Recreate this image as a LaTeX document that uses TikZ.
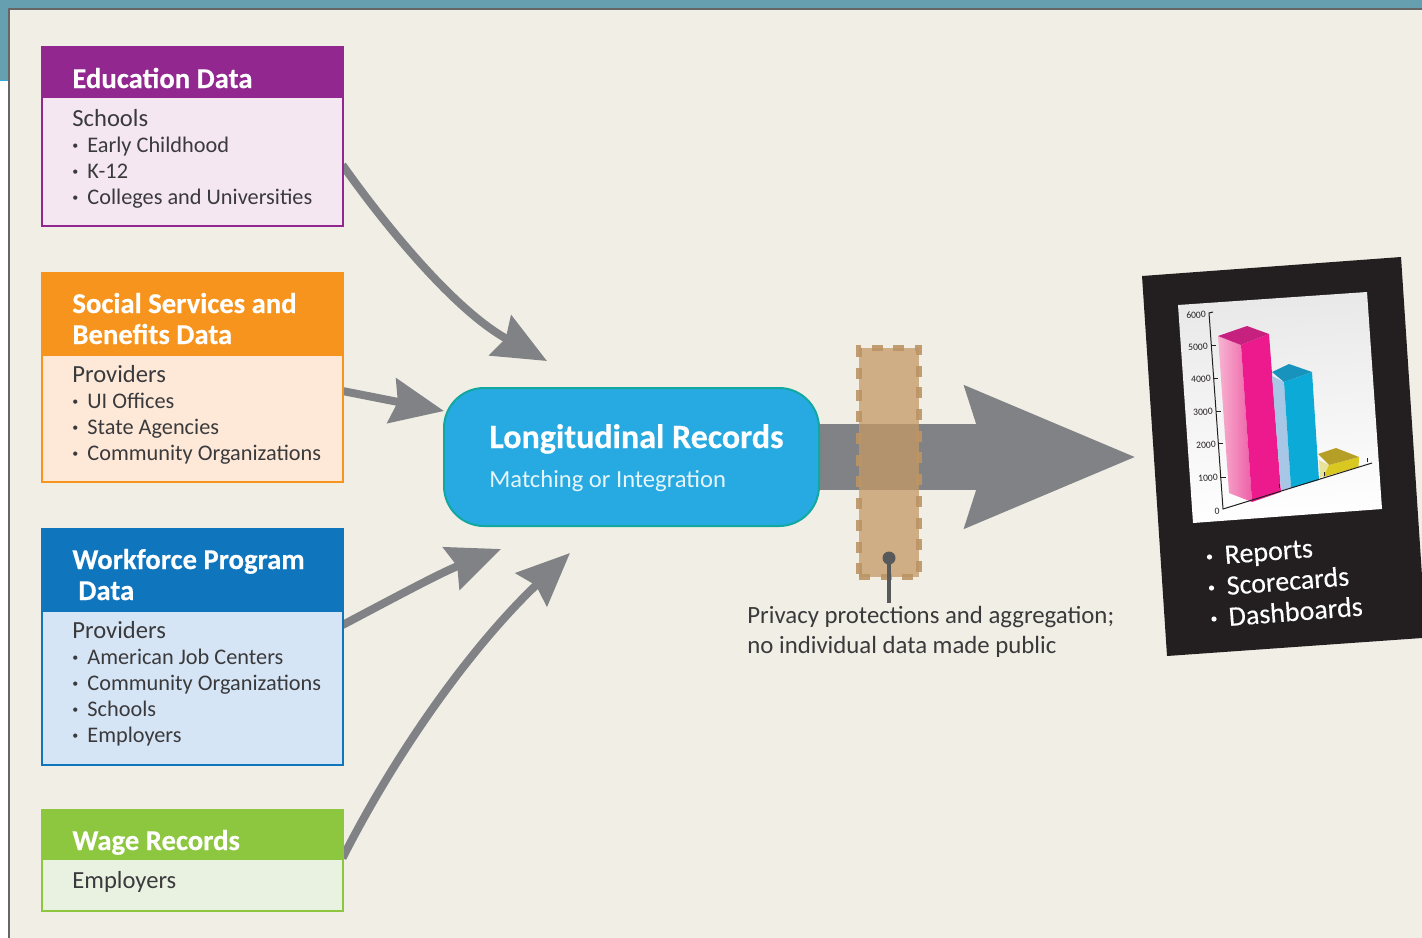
\documentclass[tikz,border=0pt]{standalone}
\usepackage{fontspec}
\setmainfont{Carlito}
\newfontfamily\cardfont[FakeBold=0.25]{Carlito}
\newfontfamily\hdfont[BoldFeatures={FakeBold=0.35}]{Carlito}
\usetikzlibrary{arrows.meta,calc}
\pgfdeclarelayer{surround}
\pgfdeclarelayer{links}
\pgfsetlayers{surround,links,main}
\definecolor{panel}{HTML}{F1EEE5}
\definecolor{teal}{HTML}{669FAF}
\definecolor{frame}{HTML}{666666}
\definecolor{ink}{HTML}{3A3A3C}
\definecolor{arrowgray}{HTML}{808285}
\definecolor{purp}{HTML}{92278F}\definecolor{purpl}{HTML}{F4E7F2}
\definecolor{oran}{HTML}{F7941D}\definecolor{oranl}{HTML}{FEE9D9}
\definecolor{blu}{HTML}{0F75BD}\definecolor{blul}{HTML}{D6E5F5}
\definecolor{gren}{HTML}{8DC63F}\definecolor{grenl}{HTML}{E9F2E1}
\definecolor{lrfill}{HTML}{27AAE1}\definecolor{lredge}{HTML}{12A8A0}
\definecolor{cardk}{HTML}{231F20}
\definecolor{band}{HTML}{C49965}
\definecolor{banddash}{HTML}{BC9464}
\definecolor{pincol}{HTML}{58595B}
\definecolor{hotpink}{HTML}{EC1A8C}
\definecolor{pinktop}{HTML}{C7217F}
\definecolor{pinkpale}{HTML}{F7B3D0}
\definecolor{pinkmid}{HTML}{EE5FA8}
\definecolor{cyanbar}{HTML}{0CAAD6}
\definecolor{cyantop}{HTML}{1793BD}
\definecolor{palebar}{HTML}{A8C6E6}
\definecolor{yelbar}{HTML}{D9C81F}
\definecolor{yeltop}{HTML}{B59F27}
\definecolor{yelpale}{HTML}{E8E29A}
\tikzset{
 bx/.style={draw=#1,line width=1pt,inner sep=0pt,outer sep=0pt},
 hd/.style={fill=#1,draw=none,inner sep=0pt,outer sep=0pt},
 hdtext/.style={anchor=base west,inner sep=0pt,text=white,font=\fontsize{14.35}{15.5}\hdfont\selectfont\bfseries,align=left},
 bodytext/.style={anchor=base west,inner sep=0pt,text=ink,font=\fontsize{11.15}{13}\selectfont,align=left},
 conn/.style={draw=arrowgray,line width=4pt,-{Stealth[length=26.5pt,width=22.5pt,inset=3pt]}},
 bigconn/.style={draw=arrowgray,line width=33pt,-{Stealth[length=84pt,width=67pt,inset=9pt]}},
 ticklabel/.style={inner sep=0pt,text=cardk,font=\fontsize{4.8}{5}\selectfont,rotate=3.5},
 axisline/.style={draw=cardk,line width=0.5pt},
 cardtext/.style={anchor=base west,inner sep=0pt,text=white,font=\fontsize{14}{15}\cardfont\selectfont,rotate=4.5},
}
\newcommand{\itm}[1]{\makebox[7.5pt][l]{\raisebox{1.1pt}{\fontsize{6}{6}\selectfont\textbullet}}#1}
\newcommand{\lead}[1]{{\fontsize{12.3}{13}\selectfont #1}}
\begin{document}
\begin{tikzpicture}[x=0.5pt,y=-0.5pt]
\useasboundingbox (0,0) rectangle (1422,937);
% page surround
\begin{pgfonlayer}{surround}
\fill[white] (0,0) rectangle (1422,937);
\fill[teal] (0,0) rectangle (1422,9);
\fill[teal] (0,0) rectangle (9,80);
\draw[cyan!70!teal,line width=0.5pt] (0,80) -- (9,80);
\path[fill=panel,draw=frame,line width=0.8pt] (9,9) rectangle (1424,939);
\end{pgfonlayer}

% source boxes
\node[bx=purp,fill=purpl,minimum width=150.5pt,minimum height=89.5pt] (edubox) at (192,136) {};
\node[bx=oran,fill=oranl,minimum width=150.5pt,minimum height=104.5pt] (socbox) at (192,377) {};
\node[bx=blu,fill=blul,minimum width=150.5pt,minimum height=118pt] (wrkbox) at (192,646.5) {};
\node[bx=gren,fill=grenl,minimum width=150.5pt,minimum height=50.5pt] (wagbox) at (192,860) {};

\coordinate (t1) at (547,361);
\coordinate (t2) at (444,411);
\coordinate (t3) at (501,549);
\coordinate (t4) at (570,553);
\coordinate (t5) at (1137,457);

% headers
\node[hd=purp,minimum width=151pt,minimum height=26pt] (eduhd) at (192,72) {};
\node[hd=oran,minimum width=151pt,minimum height=42pt] (sochd) at (192,314) {};
\node[hd=blu,minimum width=151pt,minimum height=42pt] (wrkhd) at (192,570) {};
\node[hd=gren,minimum width=151pt,minimum height=25.5pt] (waghd) at (192,834.5) {};

\node[hdtext] (edut) at (72,88) {Education Data};
\node[hdtext] (soct) at (72,344) {Social Services and\\Benefits Data};
\node[hdtext] (wrkt) at (72,600) {Workforce Program\\\hspace{3pt}Data};
\node[hdtext] (wagt) at (72,850) {Wage Records};

\node[bodytext] (edub) at (72,204) {\lead{Schools}\\\itm{Early Childhood}\\\itm{K-12}\\\itm{Colleges and Universities}};
\node[bodytext] (socb) at (72,460) {\lead{Providers}\\\itm{UI Offices}\\\itm{State Agencies}\\\itm{Community Organizations}};
\node[bodytext] (wrkb) at (72,742) {\lead{Providers}\\\itm{American Job Centers}\\\itm{Community Organizations}\\\itm{Schools}\\\itm{Employers}};
\node[bodytext] (wagb) at (72,888) {\lead{Employers}};

% hub
\node[rounded corners=20pt,fill=lrfill,draw=lredge,line width=1pt,minimum width=187.5pt,minimum height=69pt,inner sep=0pt,outer sep=0pt] (lr) at (631.5,457) {};
\node[anchor=base west,inner sep=0pt,text=white,font=\fontsize{17}{18}\hdfont\selectfont\bfseries] (lrt) at (489,448) {Longitudinal Records};
\node[anchor=base west,inner sep=0pt,text=white!88!lrfill,font=\fontsize{12.3}{14}\selectfont] (lrs) at (489,487) {Matching or Integration};

% connectors, under the boxes
\begin{pgfonlayer}{links}
\draw[conn] ([yshift=-14.5pt]edubox.east) .. controls (385,225) and (454,310) .. (t1);
\draw[conn] ([yshift=-7pt]socbox.east) -- (t2);
\draw[conn] ([yshift=10.75pt]wrkbox.east) .. controls (390,600) and (440,573) .. (t3);
\draw[conn] ([yshift=1pt]wagbox.east) .. controls (400,745) and (475,643) .. (t4);
\draw[bigconn] (lr.east) -- (t5);
\end{pgfonlayer}

% privacy band
\node[fill=band,fill opacity=0.75,draw=banddash,draw opacity=0.9,line width=3pt,dash pattern=on 5.5pt off 5.35pt,minimum width=30pt,minimum height=114.5pt,inner sep=0pt,outer sep=0pt] (band) at (889,462.5) {};
\coordinate (pinhead) at (889,558);
\coordinate (pinfoot) at (889,603);
\draw[draw=pincol,line width=2pt] (pinhead) -- (pinfoot);
\fill[pincol] (pinhead) circle[radius=6.5];
\node[anchor=base west,inner sep=0pt,text=ink,font=\fontsize{12.4}{15}\selectfont,align=left] (privt) at (747,653) {Privacy protections and aggregation;\\no individual data made public};

% report card
\path[fill=cardk] (1142,276) -- (1401,257) -- (1422,576) -- (1422,638) -- (1167,656) -- cycle;
\path[top color=black!9,bottom color=white,shading angle=3.5] (1178,305) -- (1367,292) -- (1382,509) -- (1193,523) -- cycle;

% bars
\path[left color=pinkpale,right color=pinkmid] (1218,336) -- (1241,345) -- (1252,502) -- (1229,493) -- cycle;
\path[fill=hotpink] (1241,345) -- (1269,334) -- (1281,492) -- (1252,502) -- cycle;
\path[fill=pinktop] (1218,336) -- (1247,326) -- (1269,334) -- (1241,345) -- cycle;
\path[fill=palebar] (1272,376) -- (1284,382) -- (1291,488) -- (1281,491) -- cycle;
\path[fill=cyanbar] (1284,382) -- (1312,372) -- (1319,480) -- (1291,488) -- cycle;
\path[fill=cyantop] (1272,372) -- (1289,364) -- (1312,372) -- (1284,382) -- cycle;
\path[fill=yelpale] (1319,460) -- (1329,465) -- (1323,476) -- (1320,478) -- cycle;
\path[fill=yelbar] (1329,465) -- (1359,457) -- (1358.5,467) -- (1323,477) -- cycle;
\path[fill=yeltop] (1318,454) -- (1336,448) -- (1359,457) -- (1329,465) -- cycle;

% axes
\draw[axisline] (1213,312) -- (1209,313) -- (1223,509) -- (1372,463);
\foreach \ya/\yb/\yc/\yd in {1211/345/1216/345,1213/378/1218/378,1216/411/1221/411,1218/443/1223/443,1220/477/1226/477}
 \draw[axisline] (\ya,\yb) -- (\yc,\yd);
\foreach \tx/\ty in {1279/488,1324/476,1367/462}
 \draw[axisline,line width=0.35pt] (\tx,\ty) -- (\tx,\ty-4);
\node[ticklabel] (l6) at (1196,315) {6000};
\node[ticklabel] (l5) at (1198,347) {5000};
\node[ticklabel] (l4) at (1201,379) {4000};
\node[ticklabel] (l3) at (1203,412) {3000};
\node[ticklabel] (l2) at (1206,445) {2000};
\node[ticklabel] (l1) at (1208,478) {1000};
\node[ticklabel] (l0) at (1217,511) {0};

% card text
\fill[white] (1209.5,557) circle[radius=2.6];
\fill[white] (1211.5,588) circle[radius=2.6];
\fill[white] (1214,619) circle[radius=2.6];
\node[cardtext] (c1) at (1225,564) {Reports};
\node[cardtext] (c2) at (1227,595) {Scorecards};
\node[cardtext] (c3) at (1229,626) {Dashboards};
\end{tikzpicture}
\end{document}
